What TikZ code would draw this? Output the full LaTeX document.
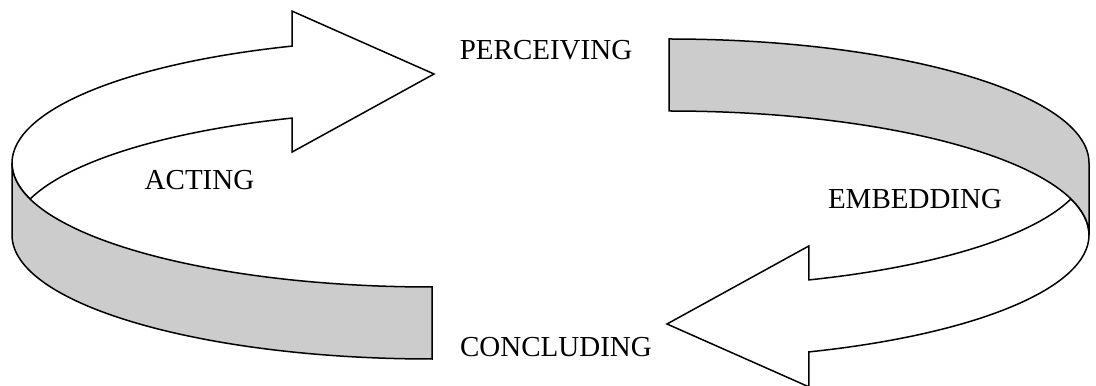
\documentclass[tikz,border=0pt]{standalone}
\usepackage{fontspec}
\setmainfont{Liberation Serif}
\usetikzlibrary{calc}

\tikzset{
  ribbon/.style={draw=black, line width=0.75pt, fill=white},
  band/.style={draw=black, line width=0.75pt, fill=black!20},
  phase/.style={font=\fontsize{14.5}{17}\selectfont, inner sep=0pt}
}

\begin{document}
\begin{tikzpicture}[x=0.5pt,y=0.5pt]
\useasboundingbox (0,0) rectangle (1096,385);
\clip (0,0) rectangle (1096,385);
\def\rx{420}
\def\ry{124}
\def\thick{72}
\pgfmathsetmacro{\tjoin}{180-acos(140/\rx)}
\pgfmathsetmacro{\tcut}{180-asin(\thick/(2*\ry))}

% the two halves of the ring are the same shape turned half round
\foreach \turn in {0,180}{
  \begin{scope}[rotate around={\turn:(550.5,186)}]
    \coordinate (C) at (432,222);
    \coordinate (L) at ($(C)+(-\rx,0)$);
    \coordinate (S) at ($(C)+(\tjoin:{\rx} and {\ry})$);
    \coordinate (T) at (434,311);
    \draw[ribbon] (S) -- ++(0,35) -- (T) -- ($(S)+(0,-106)$) -- ($(S)+(0,-\thick)$)
      arc[start angle=\tjoin, end angle=\tcut, x radius=\rx, y radius=\ry]
      arc[start angle=360-\tcut, end angle=180, x radius=\rx, y radius=\ry]
      arc[start angle=180, end angle=\tjoin, x radius=\rx, y radius=\ry] -- cycle;
    \draw[band] (L) arc[start angle=180, end angle=270, x radius=\rx, y radius=\ry]
      -- ++(0,-\thick)
      arc[start angle=270, end angle=180, x radius=\rx, y radius=\ry] -- cycle;
  \end{scope}
}

\node[phase] (perceiving) at (546,335) {PERCEIVING};
\node[phase] (acting) at (199.5,205) {ACTING};
\node[phase] (embedding) at (915,186) {EMBEDDING};
\node[phase] (concluding) at (556,38) {CONCLUDING};
\end{tikzpicture}
\end{document}
